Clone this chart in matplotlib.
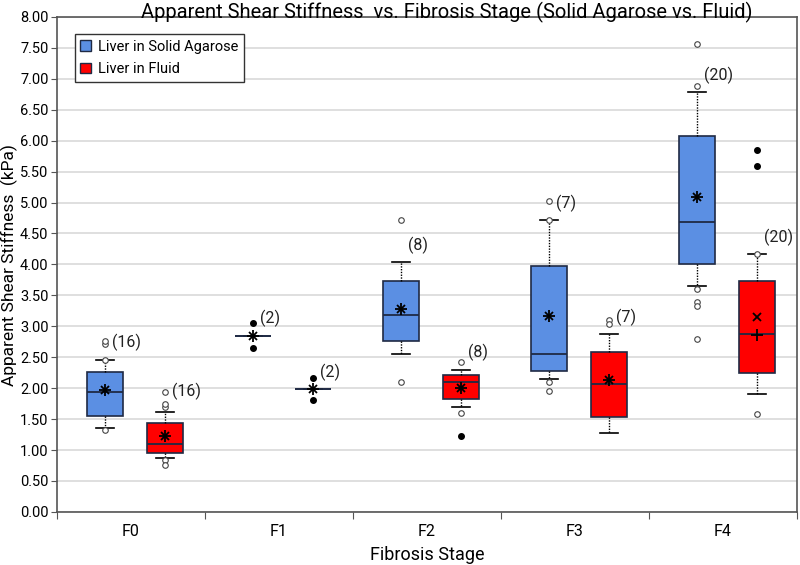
import numpy as np
from matplotlib import pyplot as plt
from matplotlib.patches import Patch

#-------------------------------------------------------------------------------------------------------------------------------------------
#values (kPa)
stages = ["F0", "F1", "F2", "F3", "F4"]
counts = [16, 2, 8, 7, 20]

#Liver in Solid Agarose
agar_q1 = [1.55, 2.85, 2.77, 2.28, 4.00]
agar_med = [1.93, 2.85, 3.18, 2.55, 4.69]
agar_q3 = [2.26, 2.85, 3.74, 3.98, 6.08]
agar_lo = [1.35, 2.85, 2.55, 2.14, 3.65]
agar_hi = [2.45, 2.85, 4.04, 4.72, 6.78]
agar_mean_x = [1.97, 2.85, 3.28, 3.16, 5.09]
agar_mean_plus = [1.97, 2.85, 3.28, 3.16, 5.09]
agar_open = [[2.45, 1.33, 2.72, 2.77], [], [4.72, 2.10], [5.02, 4.72, 2.10, 1.96], [7.57, 6.88, 3.60, 3.40, 3.33, 2.79]]
agar_filled = [[], [3.05, 2.65], [], [], []]
agar_label_y = [2.74, 3.12, 4.30, 4.98, 7.06]

#Liver in Fluid
fluid_q1 = [0.95, 1.99, 1.83, 1.54, 2.24]
fluid_med = [1.09, 1.99, 2.10, 2.07, 2.87]
fluid_q3 = [1.43, 1.99, 2.21, 2.59, 3.73]
fluid_lo = [0.87, 1.99, 1.69, 1.27, 1.91]
fluid_hi = [1.62, 1.99, 2.29, 2.88, 4.17]
fluid_mean_x = [1.23, 1.99, 2.01, 2.13, 3.15]
fluid_mean_plus = [1.23, 1.99, 2.01, 2.13, 2.86]
fluid_open = [[1.69, 1.74, 1.94, 0.84, 0.76], [], [2.42, 1.60], [3.10, 3.03], [4.17, 1.58]]
fluid_filled = [[], [2.16, 1.81], [1.23], [], [5.85, 5.59]]
fluid_label_y = [1.94, 2.25, 2.58, 3.15, 4.43]

#-------------------------------------------------------------------------------------------------------------------------------------------
plt.rcParams['font.family'] = ['Roboto', 'DejaVu Sans']

fig = plt.figure(figsize=(8, 5.65), dpi=100)
ax = fig.add_axes([0.071, 0.094, 0.925, 0.876])

x = np.arange(len(stages))
width = 0.243

def draw_series(offset, q1, med, q3, lo, hi, mean_x, mean_plus, open_pts, filled_pts, label_y, color):
    pos = x + offset
    stats = []
    for i in range(len(stages)):
        stats.append(dict(med=med[i], q1=q1[i], q3=q3[i], whislo=lo[i], whishi=hi[i], fliers=[]))
    ax.bxp(stats, positions=pos, widths=width, patch_artist=True, showfliers=False,
           boxprops=dict(facecolor=color, edgecolor="#1f2a44", linewidth=1.2),
           medianprops=dict(color="#1f2a44", linewidth=1.3),
           whiskerprops=dict(color="black", linestyle=(0, (1, 1)), linewidth=1.0),
           capprops=dict(color="black", linewidth=1.2),
           capwidths=width * 0.5, manage_ticks=False, zorder=3)
    ax.plot(pos, mean_x, linestyle="none", marker="x", color="black", ms=6, mew=1.3, zorder=5)
    ax.plot(pos, mean_plus, linestyle="none", marker="+", color="black", ms=8, mew=1.3, zorder=5)
    for i in range(len(stages)):
        if open_pts[i]:
            ax.plot([pos[i]] * len(open_pts[i]), open_pts[i], linestyle="none", marker="o", ms=4,
                    mfc="white", mec="#444444", mew=0.8, zorder=6)
        if filled_pts[i]:
            ax.plot([pos[i]] * len(filled_pts[i]), filled_pts[i], linestyle="none", marker="o", ms=4,
                    color="black", zorder=6)
        ax.annotate(f"({counts[i]})", (pos[i], label_y[i]), xytext=(5, 0), textcoords="offset points",
                    ha="left", va="center", fontsize=11.5, color="#222222")

draw_series(-0.176, agar_q1, agar_med, agar_q3, agar_lo, agar_hi, agar_mean_x, agar_mean_plus,
            agar_open, agar_filled, agar_label_y, "#5b8fe3")
draw_series(0.233, fluid_q1, fluid_med, fluid_q3, fluid_lo, fluid_hi, fluid_mean_x, fluid_mean_plus,
            fluid_open, fluid_filled, fluid_label_y, "#ff0000")

#axes, ticks, grid
ax.set_xlim(-0.5, len(stages) - 0.5)
ax.set_ylim(0, 8)
ax.set_yticks(np.arange(0, 8.01, 0.5))
ax.set_yticklabels([f"{v:.2f}" for v in np.arange(0, 8.01, 0.5)], fontsize=10.5)
ax.set_xticks(np.arange(-0.5, len(stages), 1.0))
ax.set_xticklabels([])
ax.set_xticks(x, minor=True)
ax.set_xticklabels(stages, minor=True, fontsize=11.5)
ax.tick_params(axis="x", which="minor", length=0, pad=9)
ax.tick_params(axis="x", which="major", length=5, color="#555555")
ax.tick_params(axis="y", length=4, color="#555555", pad=2)
ax.grid(axis="y", color="#d9d9d9", linewidth=1.2, zorder=0)
ax.set_axisbelow(True)
for side in ["left", "bottom", "right", "top"]:
    ax.spines[side].set_color("#555555")
    ax.spines[side].set_linewidth(1.2)

ax.set_xlabel("Fibrosis Stage", fontsize=13, labelpad=5)
fig.text(0.012, 0.53, "Apparent Shear Stiffness  (kPa)", rotation=90, ha="center", va="center", fontsize=12.5)
fig.text(0.559, 1 - 18 / 565, "Apparent Shear Stiffness  vs. Fibrosis Stage (Solid Agarose vs. Fluid)",
         ha="center", va="baseline", fontsize=14.5)

handles = [Patch(facecolor="#5b8fe3", edgecolor="#1f2a44", label="Liver in Solid Agarose"),
           Patch(facecolor="#ff0000", edgecolor="#1f2a44", label="Liver in Fluid")]
leg = ax.legend(handles=handles, loc="upper left", bbox_to_anchor=(0.024, 0.966), borderaxespad=0,
                fontsize=10.5, fancybox=False, edgecolor="#333333", framealpha=1,
                handlelength=0.7, handleheight=0.7, handletextpad=0.5, labelspacing=0.6)
leg.get_frame().set_linewidth(1.0)

fig.savefig("out.png", dpi=100)
